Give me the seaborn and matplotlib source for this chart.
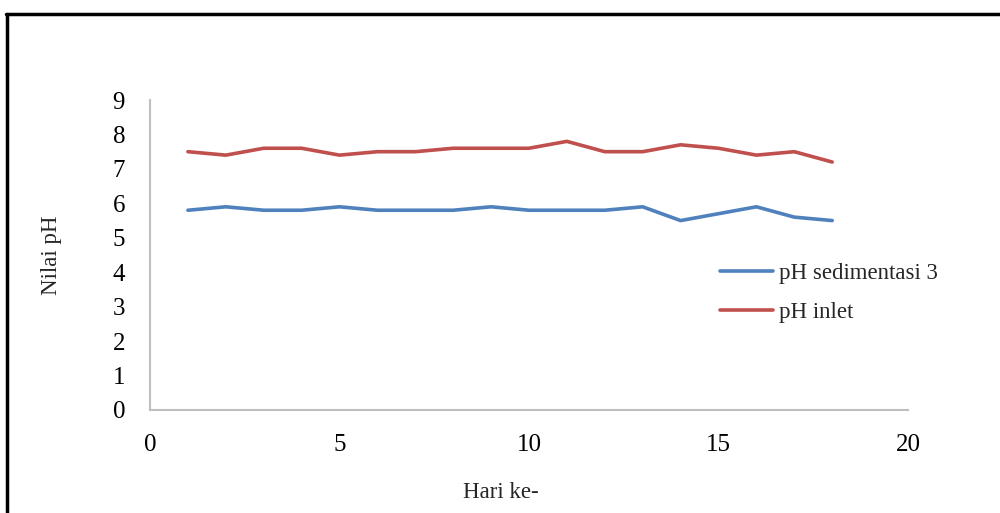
import numpy as np
import pandas as pd
import matplotlib
matplotlib.use("Agg")
import matplotlib.pyplot as plt
from matplotlib.lines import Line2D
import seaborn as sns

hari = list(range(1, 19))
ph_sedimentasi_3 = [5.8, 5.9, 5.8, 5.8, 5.9, 5.8, 5.8, 5.8, 5.9, 5.8,
                    5.8, 5.8, 5.9, 5.5, 5.7, 5.9, 5.6, 5.5]
ph_inlet = [7.5, 7.4, 7.6, 7.6, 7.4, 7.5, 7.5, 7.6, 7.6, 7.6,
            7.8, 7.5, 7.5, 7.7, 7.6, 7.4, 7.5, 7.2]
series_names = ["pH sedimentasi 3", "pH inlet"]
x_ticks = [0, 5, 10, 15, 20]
y_ticks = list(range(0, 10))

df = pd.DataFrame({
    "Hari ke-": hari * 2,
    "Nilai pH": ph_sedimentasi_3 + ph_inlet,
    "Seri": [series_names[0]] * len(hari) + [series_names[1]] * len(hari),
})

sns.set_style("white")
plt.rcParams["font.family"] = ["Liberation Serif", "DejaVu Serif"]

fig = plt.figure(figsize=(10, 5.13), dpi=100)
ax = fig.add_axes([0.15, 0.2008, 0.758, 0.6042])

palette = {series_names[0]: "#4F81BD", series_names[1]: "#C0504D"}
sns.lineplot(data=df, x="Hari ke-", y="Nilai pH", hue="Seri", palette=palette,
             linewidth=2.6, ax=ax, legend=False)

ax.set_xlim(0, 20)
ax.set_ylim(0, 9)
ax.set_xticks(x_ticks)
ax.set_yticks(y_ticks)
ax.tick_params(axis="both", length=0, labelsize=18, colors="black")
ax.tick_params(axis="x", pad=17)
ax.tick_params(axis="y", pad=18)
for side in ["top", "right"]:
    ax.spines[side].set_visible(False)
for side in ["left", "bottom"]:
    ax.spines[side].set_color("#bfbfbf")
    ax.spines[side].set_linewidth(1.5)

ax.set_xlabel("")
ax.set_ylabel("")
fig.text(0.5005, 0.04, "Hari ke-", ha="center", va="center", fontsize=16.5)
fig.text(0.051, 0.503, "Nilai pH", ha="center", va="center", rotation=90, fontsize=16.5)

handles = [Line2D([0], [0], color=palette[n], linewidth=2.6) for n in series_names]
fig.legend(handles, series_names, loc="center left", bbox_to_anchor=(0.7015, 0.429),
           frameon=False, fontsize=16.5, handlelength=2.3, handletextpad=0.28,
           labelspacing=0.82, borderpad=0.3)

# outer frame around the chart area
fig.add_artist(Line2D([0.007, 0.007], [0.0, 0.973], transform=fig.transFigure,
                      color="black", linewidth=2.5))
fig.add_artist(Line2D([0.006, 1.0], [0.973, 0.973], transform=fig.transFigure,
                      color="black", linewidth=2.5))

fig.savefig("out.png", dpi=100)
